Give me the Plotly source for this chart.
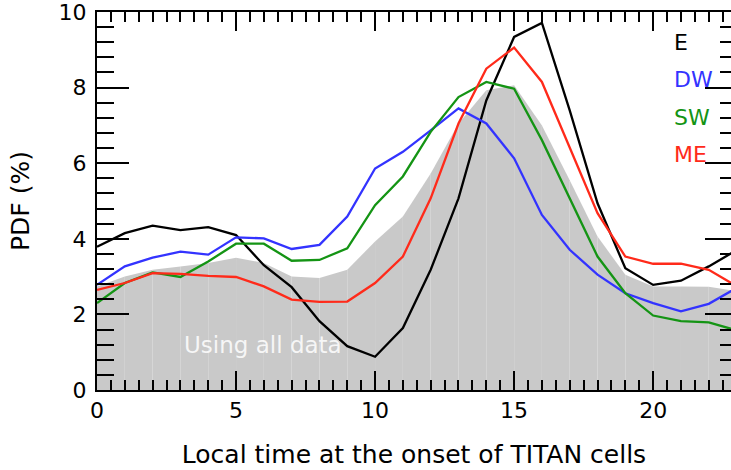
import plotly.graph_objects as go

hours = list(range(24))
all_data = [2.74, 3.00, 3.18, 3.27, 3.36, 3.50, 3.36, 3.00, 2.96, 3.18, 3.93, 4.59,
            5.73, 7.05, 7.93, 8.06, 7.00, 5.55, 4.06, 3.05, 2.74, 2.74, 2.73, 2.62]
E  = [3.79, 4.15, 4.35, 4.23, 4.31, 4.10, 3.30, 2.72, 1.82, 1.16, 0.88, 1.64,
      3.18, 5.07, 7.66, 9.34, 9.71, 7.40, 4.94, 3.22, 2.78, 2.89, 3.27, 3.70]
DW = [2.78, 3.27, 3.50, 3.66, 3.58, 4.04, 4.01, 3.73, 3.84, 4.59, 5.86, 6.30,
      6.87, 7.45, 7.05, 6.13, 4.63, 3.71, 3.05, 2.56, 2.30, 2.08, 2.28, 2.70]
SW = [2.30, 2.83, 3.11, 2.99, 3.40, 3.87, 3.87, 3.42, 3.44, 3.75, 4.89, 5.65,
      6.83, 7.75, 8.15, 7.97, 6.61, 5.07, 3.53, 2.56, 1.97, 1.82, 1.79, 1.58]
ME = [2.65, 2.83, 3.09, 3.07, 3.02, 2.99, 2.74, 2.39, 2.33, 2.34, 2.83, 3.53,
      5.07, 7.05, 8.50, 9.06, 8.15, 6.43, 4.68, 3.53, 3.34, 3.34, 3.18, 2.75]

series = [("E", E, "#000000"), ("DW", DW, "#3333ff"),
          ("SW", SW, "#149414"), ("ME", ME, "#ff2a1a")]
x_ticks = [0, 5, 10, 15, 20]
y_ticks = [0, 2, 4, 6, 8, 10]

FONT = "DejaVu Sans"
x_max = 22.8
y_rng = [-0.0001, 10.0001]

fig = go.Figure()

# gray PDF of all data, drawn hour by hour
for i in range(len(hours) - 1):
    fig.add_trace(go.Scatter(
        x=[hours[i], hours[i + 1], hours[i + 1], hours[i], hours[i]],
        y=[all_data[i], all_data[i + 1], 0, 0, all_data[i]],
        mode="lines", fill="toself", fillcolor="#c9c9c9",
        line=dict(width=0, color="#c9c9c9"), hoverinfo="skip", showlegend=False))

for name, vals, col in series:
    fig.add_trace(go.Scatter(x=hours, y=vals, mode="lines", name=name,
                             line=dict(color=col, width=2.3), showlegend=False))

# dummy trace for the secondary (top/right) axes
fig.add_trace(go.Scatter(x=[hours[0]], y=[float("nan")], xaxis="x2", yaxis="y2",
                         mode="markers", showlegend=False, hoverinfo="skip"))

legend_y = [9.2, 8.22, 7.22, 6.24]
for (name, vals, col), ly in zip(series, legend_y):
    fig.add_annotation(x=20.68, y=ly, text=name, showarrow=False, xanchor="left",
                       yanchor="middle", font=dict(family=FONT, size=22, color=col))

fig.add_annotation(x=3.05, y=1.2, text="Using all data", showarrow=False,
                   xanchor="left", yanchor="middle",
                   font=dict(family=FONT, size=23, color="rgba(255,255,255,0.85)"))

tickfont = dict(family=FONT, size=22, color="black")
fig.update_layout(
    width=731, height=470,
    margin=dict(l=97, r=0, t=12, b=79.5),
    paper_bgcolor="white", plot_bgcolor="white",
    xaxis=dict(range=[0, x_max], tickvals=x_ticks, ticks="inside", ticklen=19,
               tickwidth=1.6, tickcolor="black", showline=True, linecolor="black",
               linewidth=2, showgrid=False, zeroline=False, tickfont=tickfont,
               ticklabeloverflow="allow",
               minor=dict(dtick=0.5, tick0=0, ticks="inside", ticklen=10,
                          tickwidth=1.6, tickcolor="black", showgrid=False),
               title=dict(text="Local time at the onset of TITAN cells",
                          font=dict(family=FONT, size=25, color="black"), standoff=23)),
    yaxis=dict(range=y_rng, tickvals=y_ticks, ticks="inside", ticklen=32,
               tickwidth=1.6, tickcolor="black", showline=True, linecolor="black",
               linewidth=2, showgrid=False, zeroline=False, tickfont=tickfont,
               ticklabelstandoff=4, ticklabeloverflow="allow",
               minor=dict(dtick=0.4, tick0=0, ticks="inside", ticklen=17,
                          tickwidth=1.6, tickcolor="black", showgrid=False),
               title=dict(text="PDF (%)", font=dict(family=FONT, size=25, color="black"),
                          standoff=22)),
    xaxis2=dict(range=[0, x_max], overlaying="x", side="top", tickvals=x_ticks,
                ticks="inside", ticklen=19, tickwidth=1.6, tickcolor="black",
                showline=True, linecolor="black", linewidth=2, showgrid=False,
                zeroline=False, showticklabels=False,
                minor=dict(dtick=0.5, tick0=0, ticks="inside", ticklen=10,
                           tickwidth=1.6, tickcolor="black", showgrid=False)),
    yaxis2=dict(range=y_rng, overlaying="y", side="right", tickvals=y_ticks,
                ticks="inside", ticklen=26, tickwidth=1.6, tickcolor="black",
                showline=False, showgrid=False, zeroline=False, showticklabels=False,
                minor=dict(dtick=0.4, tick0=0, ticks="inside", ticklen=11,
                           tickwidth=1.6, tickcolor="black", showgrid=False)),
)

fig.write_html("out.html")
